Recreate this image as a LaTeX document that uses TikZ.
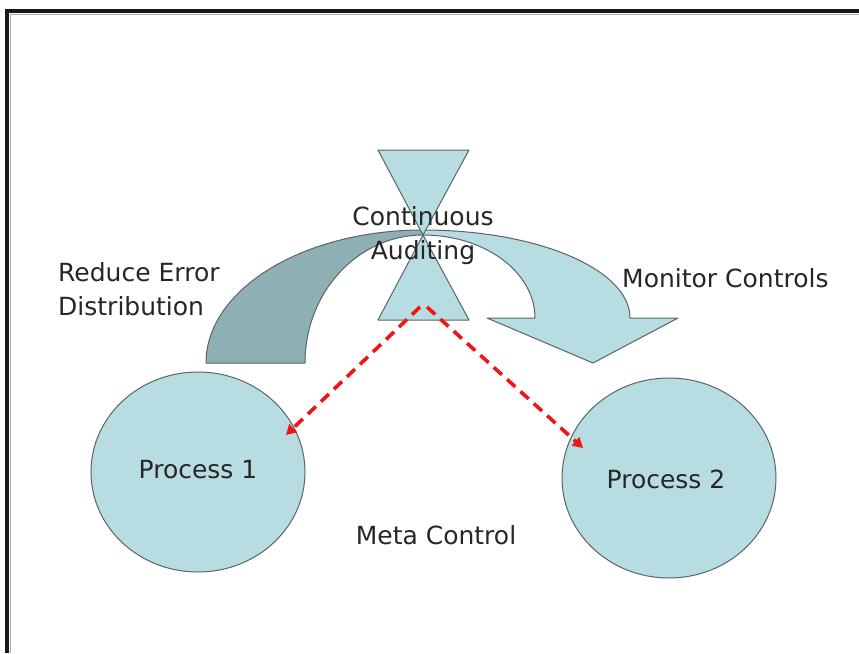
\documentclass[tikz,border=0pt]{standalone}
\usepackage{fontspec}
\setmainfont{DejaVu Sans}
\usetikzlibrary{arrows.meta,shapes.geometric}
\definecolor{lightteal}{RGB}{183,221,226}
\definecolor{darkteal}{RGB}{142,176,180}
\definecolor{edgegrey}{RGB}{90,100,100}
\definecolor{dashred}{RGB}{240,20,20}
\tikzset{
  shapefill/.style={fill=lightteal, draw=edgegrey, line width=1pt, line join=round},
  darkfill/.style={fill=darkteal, draw=edgegrey, line width=1pt, line join=round},
  proc/.style={ellipse, shapefill, minimum width=214pt, minimum height=200pt, inner sep=0pt},
  lbl/.style={font=\fontsize{25}{34}\selectfont, text=black!85, inner sep=0pt},
  dasharrow/.style={draw=dashred, line width=3.6pt, dash pattern=on 11pt off 7pt, -{Triangle[length=10pt,width=11pt]}}
}
\begin{document}
\begin{tikzpicture}[x=1pt,y=-1pt]
\useasboundingbox (0,0) rectangle (859,653);
\fill[white] (0,0) rectangle (859,653);
% frame
\draw[line width=4pt, black!90] (7,653) -- (7,11) -- (859,11);
\draw[line width=1.2pt, black!35] (10.5,653) -- (10.5,14.5) -- (859,14.5);
% left dark curved arrow
\draw[darkfill] (206,363) arc[start angle=180, end angle=90, x radius=217pt, y radius=133pt]
  -- (423,235) arc[start angle=90, end angle=180, x radius=118pt, y radius=128pt] -- cycle;
% right light curved arrow
\draw[shapefill] (630,318) arc[start angle=0, end angle=90, x radius=207pt, y radius=88pt]
  -- (423,235) arc[start angle=90, end angle=0, x radius=112pt, y radius=83pt]
  -- (487,318) -- (593,363) -- (678,318) -- cycle;
% hourglass
\draw[shapefill] (378,150) -- (469,150) -- (423,235) -- cycle;
\draw[shapefill] (378,320) -- (469,320) -- (423,235) -- cycle;
% processes
\node[proc] (p1) at (198,472) {};
\node[proc] (p2) at (669,478) {};
\node[lbl] (p1t) at (198,470) {Process 1};
\node[lbl] (p2t) at (666,479) {Process 2};
% labels
\node[lbl, align=center] (audit) at (423,236) {Continuous\\Auditing};
\node[lbl, align=left, anchor=west] (reduce) at (58,289) {Reduce Error\\Distribution};
\node[lbl, anchor=west] (monitor) at (622,278) {Monitor Controls};
\node[lbl] (meta) at (436,535) {Meta Control};
% dashed arrows
\coordinate (srcL) at (420,307);
\coordinate (srcR) at (427,307);
\coordinate (tipL) at (286,435);
\coordinate (tipR) at (583,448);
\draw[dasharrow] (srcL) -- (tipL);
\draw[dasharrow] (srcR) -- (tipR);
\end{tikzpicture}
\end{document}
